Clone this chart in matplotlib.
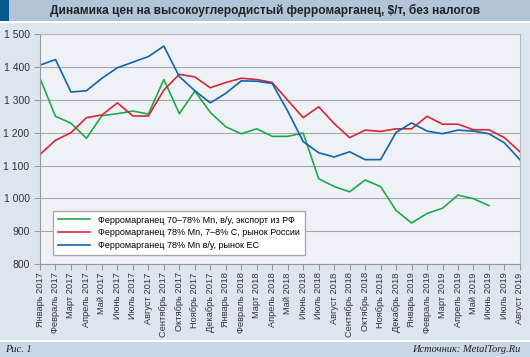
import matplotlib
matplotlib.use("Agg")
import matplotlib.pyplot as plt
from matplotlib.patches import Rectangle
from matplotlib.ticker import FuncFormatter

months = ["Январь 2017", "Февраль 2017", "Март 2017", "Апрель 2017", "Май 2017",
          "Июнь 2017", "Июль 2017", "Август 2017", "Сентябрь 2017", "Октябрь 2017",
          "Ноябрь 2017", "Декабрь 2017", "Январь 2018", "Февраль 2018", "Март 2018",
          "Апрель 2018", "Май 2018", "Июнь 2018", "Июль 2018", "Август 2018",
          "Сентябрь 2018", "Октябрь 2018", "Ноябрь 2018", "Декабрь 2018",
          "Январь 2019", "Февраль 2019", "Март 2019", "Апрель 2019", "Май 2019",
          "Июнь 2019", "Июль 2019", "Август 2019"]

export_rf = [1366, 1250, 1229, 1183, 1252, 1258, 1266, 1257, 1362, 1258, 1327,
             1262, 1218, 1197, 1212, 1189, 1189, 1199, 1060, 1036, 1020, 1056,
             1036, 963, 925, 954, 970, 1010, 999, 978]
russia = [1134, 1177, 1200, 1246, 1254, 1291, 1251, 1251, 1330, 1378, 1370,
          1337, 1353, 1366, 1362, 1353, 1299, 1246, 1279, 1228, 1185, 1208,
          1204, 1212, 1212, 1250, 1226, 1226, 1209, 1209, 1185, 1142]
eu = [1406, 1423, 1324, 1328, 1366, 1398, 1415, 1432, 1464, 1371, 1328,
      1291, 1320, 1358, 1357, 1350, 1266, 1173, 1139, 1126, 1142, 1118,
      1118, 1201, 1230, 1205, 1197, 1208, 1205, 1197, 1169, 1118]

labels = ["Ферромарганец 70–78% Mn, в/у, экспорт из РФ",
          "Ферромарганец 78% Mn, 7–8% C, рынок России",
          "Ферромарганец 78% Mn в/у, рынок ЕС"]

plt.rcParams["font.family"] = ["Liberation Sans", "DejaVu Sans"]

fig = plt.figure(figsize=(5.3, 3.57), dpi=100)
fig.patch.set_facecolor("#dde6ef")

# title bar and footer band (in figure fractions)
fig.patches.append(Rectangle((0, 0.941), 1, 0.059, transform=fig.transFigure,
                             facecolor="#b2c4d8", edgecolor="none", zorder=0))
fig.patches.append(Rectangle((0, 0.941), 0.017, 0.059, transform=fig.transFigure,
                             facecolor="#05588a", edgecolor="none", zorder=1))
fig.patches.append(Rectangle((0, 0.935), 1, 0.006, transform=fig.transFigure,
                             facecolor="white", edgecolor="none", zorder=0))
fig.patches.append(Rectangle((0, 0), 1, 0.042, transform=fig.transFigure,
                             facecolor="#c9d7e6", edgecolor="none", zorder=0))
fig.patches.append(Rectangle((0, 0.042), 1, 0.006, transform=fig.transFigure,
                             facecolor="white", edgecolor="none", zorder=0))
fig.text(0.5, 0.971, "Динамика цен на высокоуглеродистый ферромарганец, $/т, без налогов",
         ha="center", va="center", fontsize=8.6, fontweight="bold", color="#222222")
fig.text(0.01, 0.022, "Рис. 1", ha="left", va="center", fontsize=7.5,
         family="Liberation Serif", style="italic", color="#222222")
fig.text(0.982, 0.022, "Источник: MetalTorg.Ru", ha="right", va="center", fontsize=7.5,
         family="Liberation Serif", style="italic", color="#222222")

ax = fig.add_axes([0.0755, 0.2605, 0.9055, 0.6435])
ax.set_facecolor("#eef2f7")

x = list(range(len(months)))
ax.plot(x[:len(export_rf)], export_rf, color="#1eaa4a", lw=1.2, label=labels[0])
ax.plot(x, russia, color="#d92635", lw=1.2, label=labels[1])
ax.plot(x, eu, color="#1463ae", lw=1.2, label=labels[2])

ax.set_xlim(0, len(months) - 1)
ax.set_ylim(800, 1500)
ax.set_yticks(range(800, 1501, 100))
ax.yaxis.set_major_formatter(FuncFormatter(lambda v, p: f"{int(v):,}".replace(",", " ")))
ax.set_xticks(x)
ax.set_xticklabels(months, rotation=90, fontsize=6.7)
ax.tick_params(axis="y", labelsize=7.5, colors="#999999", labelcolor="#333333", length=4)
ax.tick_params(axis="x", colors="#999999", labelcolor="#333333", length=4, pad=2)
ax.grid(axis="y", color="#a8a8a8", lw=0.8)
ax.set_axisbelow(True)
for s in ["left", "bottom"]:
    ax.spines[s].set_color("#999999")
for s in ["top", "right"]:
    ax.spines[s].set_color("#b8b8b8")

leg = ax.legend(loc="lower left", bbox_to_anchor=(0.027, 0.04), fontsize=6.5,
                frameon=True, fancybox=False, borderaxespad=0, handlelength=3.6,
                labelspacing=0.4, borderpad=0.55)
leg.get_frame().set_edgecolor("#aaaaaa")
leg.get_frame().set_facecolor("white")
leg.get_frame().set_alpha(1)

fig.savefig("out.png", dpi=100, facecolor=fig.get_facecolor())
